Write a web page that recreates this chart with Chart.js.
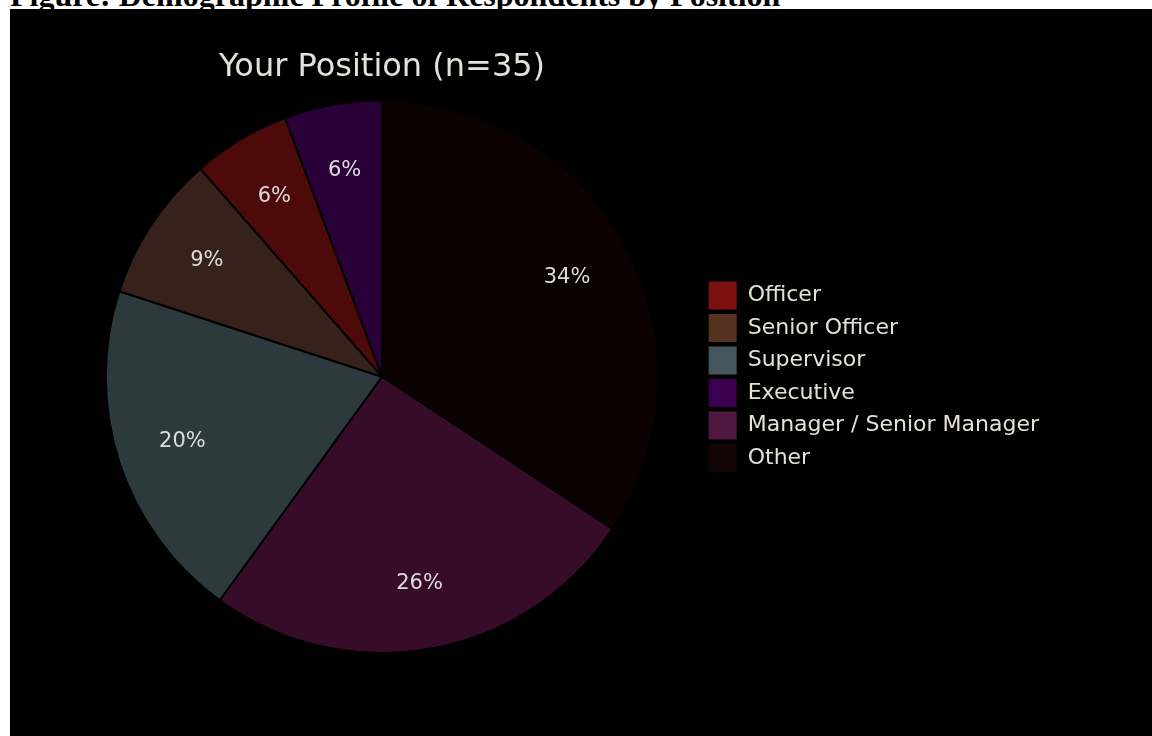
<!DOCTYPE html>
<html>
<head>
<meta charset="utf-8">
<script src="https://cdn.jsdelivr.net/npm/chart.js@4.4.0/dist/chart.umd.min.js"></script>
<style>
  html, body { margin: 0; padding: 0; background: #fff; width: 1152px; height: 736px; overflow: hidden; }
  #caption {
    position: absolute; left: 10px; top: -21px;
    font: bold 32px "Liberation Serif", "Times New Roman", serif;
    line-height: 32px; white-space: nowrap; color: #000;
  }
  #panel { position: absolute; left: 10px; top: 9px; width: 1142px; height: 727px; background: #000; }
</style>
</head>
<body>
<div id="caption">Figure: Demographic Profile of Respondents by Position</div>
<div id="panel"><canvas id="graficaPosicion" width="1142" height="727"></canvas></div>

<script>
// Respondents per position, clockwise from 12 o'clock
const categorias = ["Other", "Manager / Senior Manager", "Supervisor", "Senior Officer", "Officer", "Executive"];
const respuestas = [12, 9, 7, 3, 2, 2];

// slice fill and the (brighter) legend swatch for each category
const coloresPorcion = ["#0b0101", "#370c28", "#2c3a3e", "#36221a", "#4e0a0a", "#2a0038"];
const coloresLeyenda = ["#120505", "#4f1840", "#44565c", "#553320", "#7a1010", "#3b0050"];

// order the legend lists its entries in
const ordenLeyenda = ["Officer", "Senior Officer", "Supervisor", "Executive", "Manager / Senior Manager", "Other"];

const FUENTE = "'DejaVu Sans', Verdana, sans-serif";

// percentage labels inside each slice
const etiquetasPorcentaje = {
    id: "etiquetasPorcentaje",
    afterDatasetsDraw(chart) {
        const { ctx } = chart;
        const meta = chart.getDatasetMeta(0);
        const valores = chart.data.datasets[0].data;
        const total = valores.reduce((a, b) => a + b, 0);
        ctx.save();
        ctx.font = "21px " + FUENTE;
        ctx.fillStyle = "#dcdcdc";
        ctx.textAlign = "center";
        ctx.textBaseline = "middle";
        meta.data.forEach((arco, i) => {
            const { x, y, startAngle, endAngle, outerRadius } = arco.getProps(["x", "y", "startAngle", "endAngle", "outerRadius"], true);
            const medio = (startAngle + endAngle) / 2;
            const r = outerRadius * 0.76;
            const pct = Math.round(valores[i] / total * 100) + "%";
            ctx.fillText(pct, x + Math.cos(medio) * r, y + Math.sin(medio) * r);
        });
        ctx.restore();
    }
};

const ctx = document.getElementById("graficaPosicion").getContext("2d");
const graficaPosicion = new Chart(ctx, {
    type: "pie",
    data: {
        labels: categorias,
        datasets: [{
            data: respuestas,
            backgroundColor: coloresPorcion,
            borderColor: "#000",
            borderWidth: 2
        }]
    },
    options: {
        responsive: false,
        animation: false,
        layout: { padding: { left: 50, right: 103, top: 0, bottom: 82 } },
        plugins: {
            title: {
                display: true,
                fullSize: false,
                text: "Your Position (n=" + respuestas.reduce((a, b) => a + b, 0) + ")",
                color: "#e4e1da",
                font: { family: FUENTE, size: 32, weight: "normal", lineHeight: 1.2 },
                padding: { top: 39, bottom: 13 }
            },
            legend: {
                position: "right",
                fullSize: false,
                labels: {
                    color: "#e4e1da",
                    font: { family: FUENTE, size: 22 },
                    boxWidth: 28,
                    boxHeight: 28,
                    padding: 4.5,
                    generateLabels(chart) {
                        return chart.data.labels.map((nombre, i) => ({
                            text: nombre,
                            fillStyle: coloresLeyenda[i],
                            strokeStyle: coloresLeyenda[i],
                            lineWidth: 0,
                            fontColor: "#e4e1da",
                            hidden: false,
                            index: i
                        }));
                    },
                    sort: (a, b) => ordenLeyenda.indexOf(a.text) - ordenLeyenda.indexOf(b.text)
                }
            },
            tooltip: { enabled: false }
        }
    },
    plugins: [etiquetasPorcentaje]
});
</script>
</body>
</html>
